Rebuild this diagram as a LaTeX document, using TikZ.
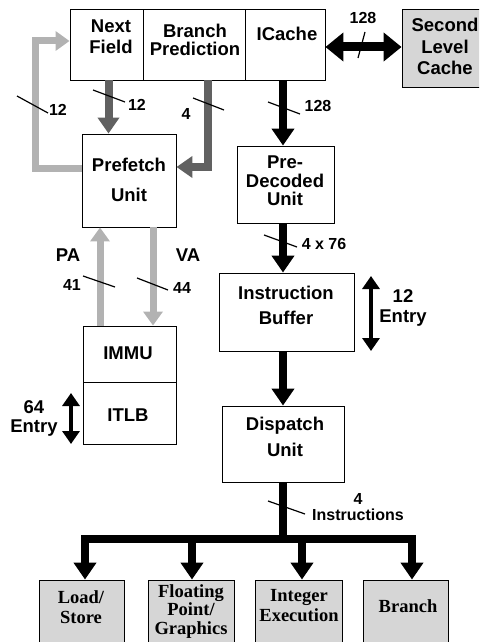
\documentclass[tikz,border=0pt]{standalone}
\usepackage{fontspec}
\setmainfont{Liberation Sans}
\newfontfamily\serifbf{Liberation Serif}
\usetikzlibrary{arrows.meta}
\tikzset{
  box/.style={draw=black, line width=0.9pt, inner sep=0pt, fill=white},
  unitbox/.style={box, fill=black!16},
  lab/.style={inner sep=0pt, align=center, font=\bfseries\fontsize{18.5}{#1}\selectfont},
  lab/.default=21,
  numlab/.style={inner sep=0pt, align=center, font=\bfseries\fontsize{16}{16}\selectfont},
  serlab/.style={inner sep=0pt, align=center, font=\serifbf\bfseries\fontsize{18.5}{#1}\selectfont},
  serlab/.default=20,
  blk/.style={line width=8pt, draw=black, -{Triangle[width=22pt,length=17pt]}},
  dgr/.style={line width=8pt, draw=black!62, -{Triangle[width=21pt,length=16pt]}},
  lgr/.style={line width=7pt, draw=black!30, -{Triangle[width=19pt,length=14pt]}},
  dbl/.style={line width=9pt, draw=black, {Triangle[width=28pt,length=18pt]}-{Triangle[width=28pt,length=18pt]}},
  thindbl/.style={line width=4pt, draw=black, {Triangle[width=17pt,length=13pt]}-{Triangle[width=17pt,length=13pt]}},
  slash/.style={line width=1.2pt, draw=black},
}
\begin{document}
\begin{tikzpicture}[x=1pt,y=-1pt]
\useasboundingbox (0,0) rectangle (479,642);
\clip (0,0) rectangle (479,642);

% boxes
\node[box, minimum width=73pt, minimum height=71pt] (nf) at (106.5,44.5) {};
\node[box, minimum width=102pt, minimum height=71pt] (bp) at (194,44.5) {};
\node[box, minimum width=80pt, minimum height=71pt] (ic) at (285,44.5) {};
\node[unitbox, minimum width=86pt, minimum height=78pt] (l2) at (445,48) {};
\node[box, minimum width=94pt, minimum height=93pt] (pf) at (129,180.5) {};
\node[box, minimum width=97pt, minimum height=77pt] (pd) at (285.5,184.5) {};
\node[box, minimum width=135pt, minimum height=78pt] (ib) at (286.5,312) {};
\node[box, minimum width=122pt, minimum height=76pt] (du) at (283,444) {};
\node[box, minimum width=93pt, minimum height=56pt] (immu) at (129.5,354) {};
\node[box, minimum width=93pt, minimum height=62pt] (itlb) at (129.5,413) {};
\node[unitbox, minimum width=85pt, minimum height=70pt] (ls) at (81.5,615) {};
\node[unitbox, minimum width=86pt, minimum height=70pt] (fp) at (191,615) {};
\node[unitbox, minimum width=87pt, minimum height=70pt] (ie) at (298.5,615) {};
\node[unitbox, minimum width=85pt, minimum height=70pt] (br) at (405.5,615) {};

% box texts
\node[lab=21] (nft) at (111,36.5) {Next\\Field};
\node[lab=18.5] (bpt) at (195,40) {Branch\\Prediction};
\node[lab] (ict) at (287,34) {ICache};
\node[lab=21.5] (l2t) at (445,46.5) {Second\\Level\\Cache};
\node[lab=30] (pft) at (129,180) {Prefetch\\Unit};
\node[lab=18.5] (pdt) at (285,181) {Pre-\\Decoded\\Unit};
\node[lab=25] (ibt) at (286,305.5) {Instruction\\Buffer};
\node[lab=26] (dut) at (285,437) {Dispatch\\Unit};
\node[lab] (immut) at (128,353) {IMMU};
\node[lab] (itlbt) at (128,415) {ITLB};
\node[serlab=20] (lst) at (81,607) {Load/\\Store};
\node[serlab=18.5] (fpt) at (191,611.5) {Floating\\Point/\\Graphics};
\node[serlab=20] (iet) at (299,606) {Integer\\Execution};
\node[serlab] (brt) at (408,606) {Branch};

% connectors
\draw[lgr] ([yshift=12.5pt]pf.west) -- ++(-46,0) |- ([yshift=3.5pt]nf.west);
\draw[dgr] ([xshift=2pt]nf.south) -- ([xshift=2pt]nf.south |- pf.north);
\draw[dgr] ([xshift=14pt]bp.south) |- ([yshift=13.5pt]pf.east);
\draw[blk] ([xshift=-2pt]ic.south) -- ([xshift=-2pt]ic.south |- pd.north);
\draw[dbl] ([yshift=-2.5pt]ic.east) -- ([yshift=-2.5pt]ic.east -| l2.west);
\draw[blk] ([xshift=-2.5pt]pd.south) -- ([xshift=-2.5pt]pd.south |- ib.north);
\draw[blk] (du.north |- ib.south) -- (du.north);
\draw[lgr] ([xshift=-29.5pt]immu.north) -- ([xshift=-29.5pt]immu.north |- pf.south);
\draw[lgr] ([xshift=23.5pt]immu.north |- pf.south) -- ([xshift=23.5pt]immu.north);

\coordinate (bus) at (283,539);
\draw[line width=8pt] (du.south) -- (bus);
\draw[blk] (bus) -| ([xshift=3.5pt]ls.north);
\draw[blk] (bus) -| ([xshift=6.5pt]br.north);
\draw[blk] ([xshift=1pt]fp.north |- bus) -- ([xshift=1pt]fp.north);
\draw[blk] ([xshift=3.5pt]ie.north |- bus) -- ([xshift=3.5pt]ie.north);

% entry arrows
\coordinate (e12a) at (371,276);
\coordinate (e12b) at (371,351);
\draw[thindbl] (e12a) -- (e12b);
\coordinate (e64a) at (71,393);
\coordinate (e64b) at (71,444);
\draw[thindbl] (e64a) -- (e64b);

% slashes
\draw[slash] (358,58) -- (365,32);
\draw[slash] (17,96) -- (48,113);
\draw[slash] (93,90) -- (125,102);
\draw[slash] (193,98) -- (224,110);
\draw[slash] (268,102) -- (300,114);
\draw[slash] (264,235) -- (297,247);
\draw[slash] (83,276) -- (115,287);
\draw[slash] (137,278) -- (168,290);
\draw[slash] (268,501) -- (305,514);

% labels
\node[numlab] (n128a) at (363,18) {128};
\node[numlab] (n12a) at (58,110) {12};
\node[numlab] (n12b) at (137,105) {12};
\node[numlab] (n4) at (186,114) {4};
\node[numlab] (n128b) at (318,106) {128};
\node[numlab] (n476) at (324,244) {4 x 76};
\node[lab] (pa) at (68,255) {PA};
\node[lab] (va) at (188,255) {VA};
\node[numlab] (n41) at (72,285) {41};
\node[numlab] (n44) at (182,288) {44};
\node[lab=20] (e12t) at (403,308) {12\\Entry};
\node[lab=19] (e64t) at (34,418) {64\\Entry};
\node[numlab] (n4i) at (358,507) {4\\Instructions};
\end{tikzpicture}
\end{document}
